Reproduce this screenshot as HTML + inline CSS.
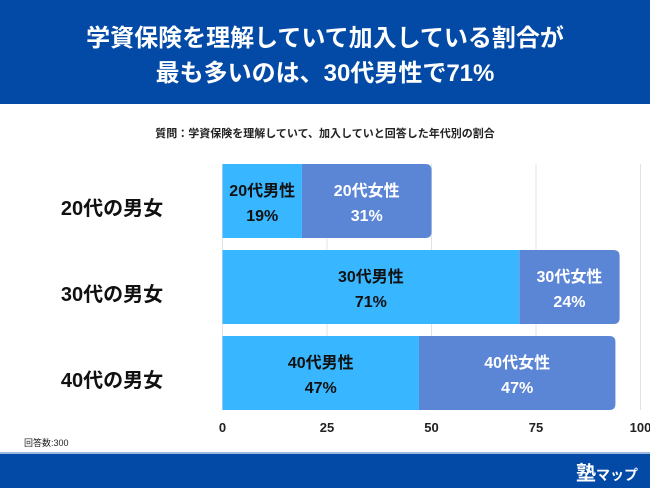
<!DOCTYPE html>
<html><head><meta charset="utf-8"><style>
body{margin:0;width:650px;height:488px;overflow:hidden;background:#fff;font-family:"Liberation Sans","Noto Sans CJK JP",sans-serif;}
#hdr{position:absolute;left:0;top:0;width:650px;height:104px;background:#034aa6;color:#fff;text-align:center;font-weight:bold;font-size:24px;line-height:35px;padding-top:21px;box-sizing:border-box;}
#ftr{position:absolute;left:0;top:452px;width:650px;height:36px;background:#034aa6;border-top:2px solid #9bb8e0;box-sizing:border-box;}
#logo{position:absolute;right:12px;top:3px;color:#fff;font-weight:bold;font-size:20px;}
#logo small{font-size:14px;}
</style></head><body>
<div id="hdr">学資保険を理解していて加入している割合が<br>最も多いのは、30代男性で71%</div>
<svg id="chart" width="650" height="452" style="position:absolute;left:0;top:0">
<text x="325" y="137" text-anchor="middle" font-size="11" font-weight="bold" fill="#222">質問：学資保険を理解していて、加入していと回答した年代別の割合</text>
<g id="grid"></g><g id="bars"></g>
<text x="24" y="446" font-size="9" fill="#222">回答数:300</text>
</svg>
<div id="ftr"><div id="logo">塾<small>マップ</small></div></div>
<script>
const categories=["20代の男女","30代の男女","40代の男女"];
const maleLabels=["20代男性","30代男性","40代男性"];
const femaleLabels=["20代女性","30代女性","40代女性"];
const maleValues=[19,71,47];
const femaleValues=[31,24,47];
const ticks=[0,25,50,75,100];
const NS="http://www.w3.org/2000/svg";
const X=v=>222.5+v*4.18;
const Y=i=>164+i*86;
const BH=74;
function mk(t,a,p,txt){const e=document.createElementNS(NS,t);for(const k in a)e.setAttribute(k,a[k]);if(txt!==undefined)e.textContent=txt;p.appendChild(e);return e;}
const grid=document.getElementById('grid'),bars=document.getElementById('bars');
ticks.forEach(t=>{
 const l=mk('line',{x1:X(t),x2:X(t),y1:164,y2:410,stroke:'#e3e3e3','stroke-width':1},grid);
 
 
 const tx=mk('text',{x:X(t),y:432,'text-anchor':'middle','font-size':13,'font-weight':'bold',fill:'#222'},grid,String(t));
 
 
});
categories.forEach((c,i)=>{
 const y=Y(i),m=maleValues[i],f=femaleValues[i];
 const cl=mk('text',{x:112,y:y+BH/2+14,'text-anchor':'middle','font-size':20,'font-weight':'bold',fill:'#111'},bars,c);
 
 
 const fr=mk('path',{d:`M${X(m)} ${y}H${X(m+f)-6}Q${X(m+f)} ${y} ${X(m+f)} ${y+6}V${y+BH-6}Q${X(m+f)} ${y+BH} ${X(m+f)-6} ${y+BH}H${X(m)}Z`,fill:'#5b86d6'},bars);
 
 
 const mr=mk('rect',{x:X(0),y:y,width:X(m)-X(0),height:BH,fill:'#38b6ff'},bars);
 
 
 [[X(0),X(m),maleLabels[i],m,'#111'],[X(m),X(m+f),femaleLabels[i],f,'#fff']].forEach(([a,b,lab,v,col])=>{
  const cx=(a+b)/2;
  const t1=mk('text',{x:cx,y:y+BH/2-5,'text-anchor':'middle','font-size':16,'font-weight':'bold',fill:col},bars,lab);
  
  
  const t2=mk('text',{x:cx,y:y+BH/2+20,'text-anchor':'middle','font-size':16,'font-weight':'bold',fill:col},bars,v+'%');
  
  
 });
});
</script>
</body></html>
